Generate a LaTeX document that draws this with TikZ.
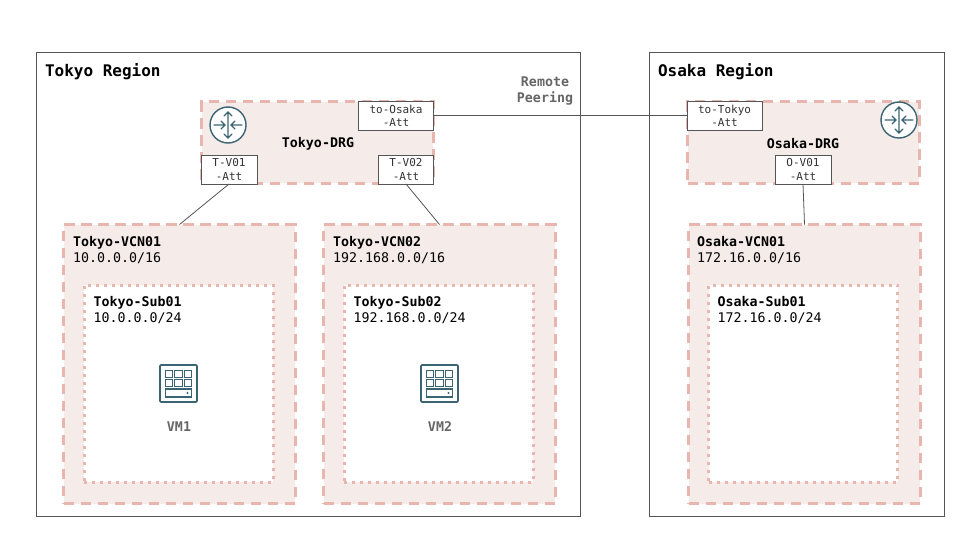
\documentclass[tikz,border=0pt]{standalone}
\usepackage{fontspec}
\usetikzlibrary{positioning}
\setmainfont{DejaVu Sans Mono}
\definecolor{netline}{HTML}{E8B6AE}
\definecolor{netfill}{HTML}{F5EBE8}
\definecolor{iconblue}{HTML}{3A6472}
\definecolor{wire}{HTML}{555555}
\definecolor{softtext}{HTML}{666666}

\begin{document}
\begin{tikzpicture}[x=1pt, y=-1pt, inner sep=0pt, outer sep=0pt,
    region/.style={draw=wire, line width=0.8pt, fill=white, anchor=north west},
    regiontitle/.style={font=\fontsize{16}{19}\selectfont\bfseries, anchor=base west},
    netbox/.style={draw=netline, fill=netfill, line width=3pt, dash pattern=on 10.5pt off 6.5pt},
    drg/.style={netbox, minimum width=231.5pt, minimum height=81.5pt},
    vcn/.style={netbox, minimum width=231.5pt, minimum height=279pt},
    subnet/.style={draw=netline, fill=white, line width=3pt, dash pattern=on 3pt off 5pt, minimum width=189pt, minimum height=197pt},
    att/.style={draw=wire, line width=0.8pt, fill=white, align=center, text=black!80, font=\fontsize{11}{13.3}\selectfont, minimum height=29pt},
    netlabel/.style={align=left, anchor=north west, font=\fontsize{13.3}{15.5}\selectfont},
    drglabel/.style={font=\fontsize{13.3}{16}\selectfont\bfseries},
    vmlabel/.style={font=\fontsize{13.3}{16}\selectfont\bfseries, text=softtext},
    link/.style={draw=wire, line width=0.8pt},
    router/.pic={
        \draw[iconblue, line width=1.4pt, fill=white] (0,0) circle (18);
        \draw[iconblue, line width=1.2pt, line cap=round]
            (-14,0) -- (-3,0) (-7,-4) -- (-3,0) -- (-7,4)
            (14,0) -- (3,0) (7,-4) -- (3,0) -- (7,4)
            (0,-13) -- (0,13) (-4,-9) -- (0,-13) -- (4,-9) (-4,9) -- (0,13) -- (4,9);
    },
    server/.pic={
        \draw[iconblue, line width=1.6pt, rounded corners=1pt] (-18.5,-18.5) rectangle (18.5,18.5);
        \foreach \col in {-9.5,0,9.5}
            \foreach \row in {-9.5,-0.5} {
                \draw[iconblue, line width=1.2pt] (\col-3.7,\row-3.7) rectangle (\col+3.7,\row+3.7);
            }
        \draw[iconblue, line width=1.2pt] (-13.2,5.5) rectangle (13.2,13.5);
        \fill[iconblue] (9,9.5) circle (1.1);
    }]
    \useasboundingbox (0,0) rectangle (960,540);

    % regions
    \node[region, minimum width=544pt, minimum height=464pt] (tokyo) at (36.5,52.5) {};
    \node[region, minimum width=295pt, minimum height=464pt] (osaka) at (649.5,52.5) {};
    \node[regiontitle] (tokyotitle) at (45,77) {Tokyo Region};
    \node[regiontitle] (osakatitle) at (658,77) {Osaka Region};

    % DRGs
    \node[drg] (tokyodrg) at (317.5,142.5) {};
    \node[drg] (osakadrg) at (803.5,142.5) {};
    \node[drglabel] (tokyodrglabel) at (318,144) {Tokyo-DRG};
    \node[drglabel] (osakadrglabel) at (803,144) {Osaka-DRG};
    \pic at (228,125) {router};
    \pic at (899,120) {router};

    % VCNs
    \node[vcn] (tokyovcn1) at (179.5,364) {};
    \node[vcn] (tokyovcn2) at (439.5,364) {};
    \node[vcn] (osakavcn1) at (804.5,364) {};
    \node[netlabel] (tokyovcn1label) at (73,236.5) {\textbf{Tokyo-VCN01}\\10.0.0.0/16};
    \node[netlabel] (tokyovcn2label) at (333,236.5) {\textbf{Tokyo-VCN02}\\192.168.0.0/16};
    \node[netlabel] (osakavcn1label) at (697,236.5) {\textbf{Osaka-VCN01}\\172.16.0.0/16};

    % subnets
    \node[subnet] (tokyosub1) at (178.8,383.8) {};
    \node[subnet] (tokyosub2) at (438.8,383.8) {};
    \node[subnet] (osakasub1) at (803.3,383.8) {};
    \node[netlabel] (tokyosub1label) at (93.5,296.5) {\textbf{Tokyo-Sub01}\\10.0.0.0/24};
    \node[netlabel] (tokyosub2label) at (353.5,296.5) {\textbf{Tokyo-Sub02}\\192.168.0.0/24};
    \node[netlabel] (osakasub1label) at (717.5,296.5) {\textbf{Osaka-Sub01}\\172.16.0.0/24};

    % VMs
    \pic at (178.5,383.5) {server};
    \pic at (439.5,383.5) {server};
    \node[vmlabel] (vm1) at (179,427) {VM1};
    \node[vmlabel] (vm2) at (440,427) {VM2};

    % attachments
    \node[att, minimum width=75pt] (toosaka) at (396,115.5) {to-Osaka\\-Att};
    \node[att, minimum width=75pt] (totokyo) at (724.5,115.5) {to-Tokyo\\-Att};
    \node[att, minimum width=56pt] (tv01) at (229,169.5) {T-V01\\-Att};
    \node[att, minimum width=55pt] (tv02) at (406,169.5) {T-V02\\-Att};
    \node[att, minimum width=56pt] (ov01) at (803,169.5) {O-V01\\-Att};

    \path[link]
        (toosaka.east) -- (totokyo.west)
        (tv01.south) -- (tokyovcn1.north)
        (tv02.south) -- (tokyovcn2.north)
        (ov01.south) -- (osakavcn1.north);

    \node[font=\fontsize{13.3}{16}\selectfont\bfseries, text=softtext, align=center] (peering) at (545,91) {Remote\\Peering};
\end{tikzpicture}
\end{document}
